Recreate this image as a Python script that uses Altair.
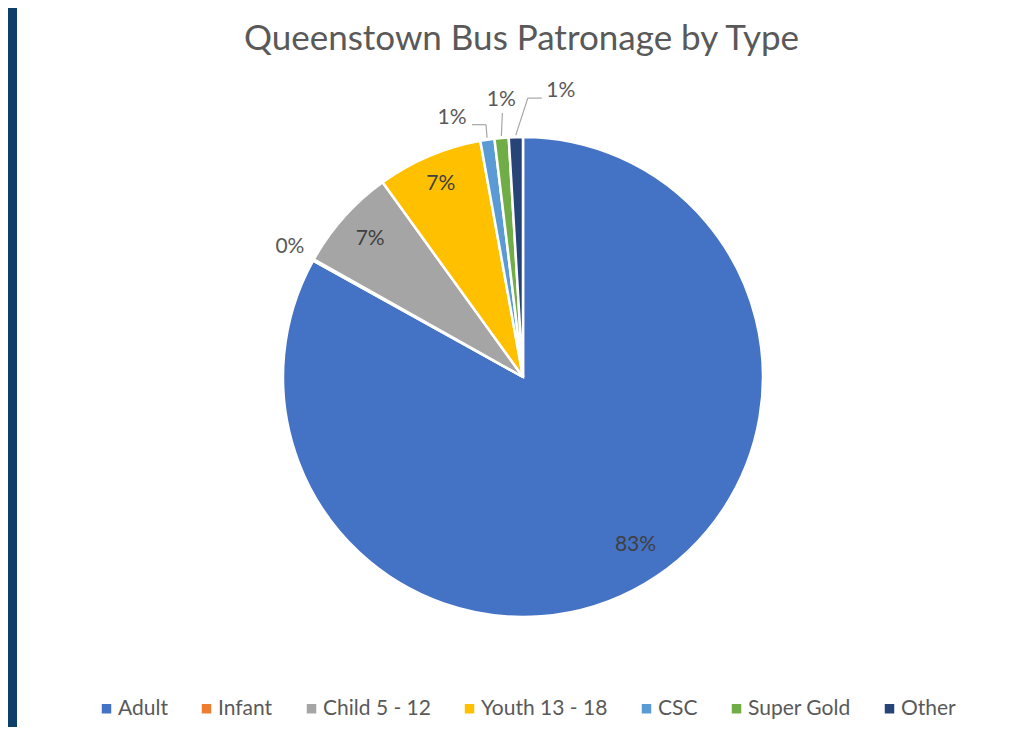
import altair as alt
import pandas as pd

categories = ["Adult", "Infant", "Child 5 - 12", "Youth 13 - 18", "CSC", "Super Gold", "Other"]
shares = [83.1, 0.1, 6.9, 7.1, 0.95, 0.95, 0.95]
labels = ["83%", "0%", "7%", "7%", "1%", "1%", "1%"]
colors = ["#4472C4", "#ED7D31", "#A5A5A5", "#FFC000", "#5B9BD5", "#70AD47", "#264478"]

FONT = "Lato"
CX, CY = 506, 369   # pie centre inside the view (pixels)
R = 240

df = pd.DataFrame({"type": categories, "share": shares, "label": labels,
                   "order": list(range(len(categories)))})

base = alt.Chart(df).transform_joinaggregate(
    total="sum(share)"
).transform_window(
    cum="sum(share)", sort=[alt.SortField("order", order="ascending")], frame=[None, 0]
).transform_calculate(
    mid="(datum.cum - datum.share / 2) / datum.total * 2 * PI"
)

pie = alt.Chart(df).mark_arc(radius=R, stroke="white", strokeWidth=2.5).encode(
    theta=alt.Theta("share:Q", stack=True),
    order=alt.Order("order:Q"),
    color=alt.Color(
        "type:N",
        scale=alt.Scale(domain=categories, range=colors),
        sort=categories,
        legend=alt.Legend(
            title=None, orient="none", legendX=79, legendY=690,
            direction="horizontal", columns=7, symbolType="square",
            symbolSize=90, symbolStrokeWidth=0, labelFont=FONT, labelFontSize=21,
            labelColor="#595959", columnPadding=28, labelOffset=1,
        ),
    ),
    x=alt.value(CX),
    y=alt.value(CY),
)


def label(cat, r, dx, dy, color):
    return base.transform_filter(alt.datum.type == cat).transform_calculate(
        lx=f"{CX} + {r} * sin(datum.mid) + ({dx})",
        ly=f"{CY} - {r} * cos(datum.mid) + ({dy})",
    ).mark_text(font=FONT, fontSize=21, color=color, align="center", baseline="middle").encode(
        x=alt.X("lx:Q", scale=None, axis=None),
        y=alt.Y("ly:Q", scale=None, axis=None),
        text="label:N",
    )


def leader(cat, r0, ddx, ddy, hx):
    seg = base.transform_filter(alt.datum.type == cat).transform_calculate(
        ax=f"{CX} + {r0} * sin(datum.mid)",
        ay=f"{CY} - {r0} * cos(datum.mid)",
    ).transform_calculate(
        bx=f"datum.ax + ({ddx})",
        by=f"datum.ay + ({ddy})",
    ).transform_calculate(
        cx=f"datum.bx + ({hx})",
    )
    s1 = seg.mark_rule(color="#A6A6A6", strokeWidth=1.2).encode(
        x=alt.X("ax:Q", scale=None, axis=None), y=alt.Y("ay:Q", scale=None, axis=None),
        x2="bx:Q", y2="by:Q",
    )
    layers = [s1]
    if hx != 0:
        s2 = seg.mark_rule(color="#A6A6A6", strokeWidth=1.2).encode(
            x=alt.X("bx:Q", scale=None, axis=None), y=alt.Y("by:Q", scale=None, axis=None),
            x2="cx:Q", y2="by:Q",
        )
        layers.append(s2)
    return layers


inside = "#404040"
outside = "#595959"
text_layers = [
    label("Adult", 202, 10, -6, inside),
    label("Child 5 - 12", 205, 0, -1, inside),
    label("Youth 13 - 18", 210, 0, 0, inside),
    label("Infant", 267, 0, 0, outside),
    label("CSC", 242, -35, -20, outside),
    label("Super Gold", 242, 0, -36, outside),
    label("Other", 242, 45, -44, outside),
]
leader_layers = (
    leader("CSC", 242, -1, -13, -14)
    + leader("Super Gold", 242, 1, -23, 0)
    + leader("Other", 242, 12, -37, 14)
)

chart = alt.layer(pie, *leader_layers, *text_layers).properties(
    width=1009,
    height=719,
    autosize=alt.AutoSizeParams(type="none"),
    padding={"left": 9, "top": 0, "right": 0, "bottom": 0},
    background="#0E3F68",
    title=alt.Title(
        "Queenstown Bus Patronage by Type", font=FONT, fontSize=35, fontWeight="normal",
        color="#595959", anchor="middle", frame="group", offset=-77, baseline="alphabetic",
    ),
).configure_view(fill="white", strokeWidth=0)

chart.save("out.html", embed_options={"renderer": "svg", "actions": False})
